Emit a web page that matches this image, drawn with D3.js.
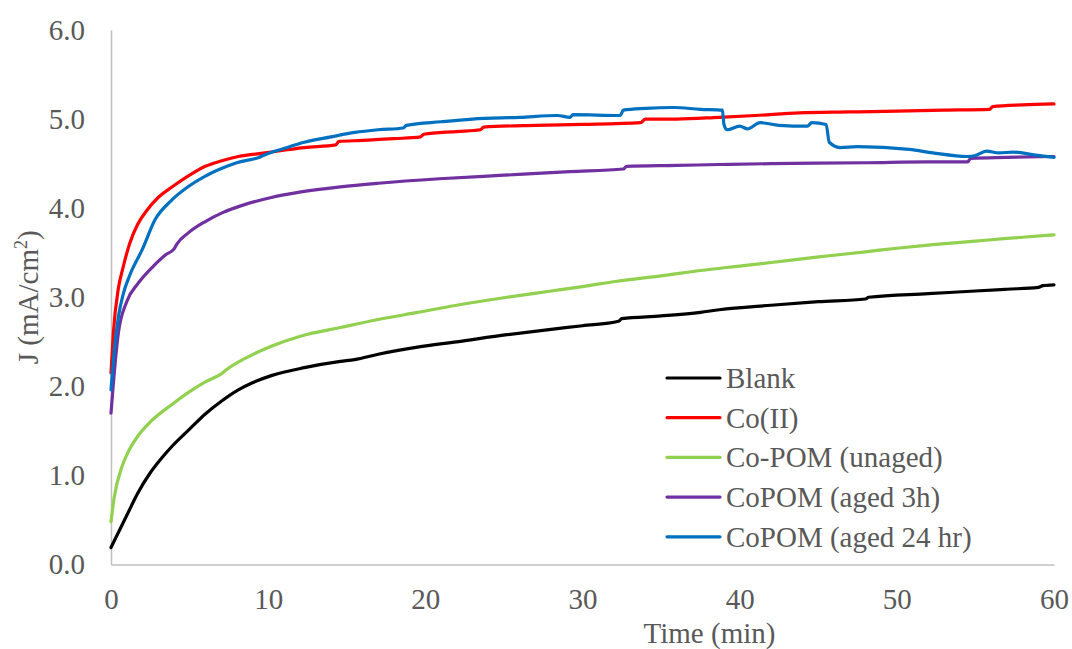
<!DOCTYPE html>
<html>
<head>
<meta charset="utf-8">
<script src="https://cdn.jsdelivr.net/npm/d3@7"></script>
<style>
  html, body { margin: 0; padding: 0; background: #fff; }
  svg { display: block; }
  text { font-family: "Liberation Serif", "Times New Roman", serif; fill: #595959; }
</style>
</head>
<body>
<svg id="chart" width="1072" height="649"></svg>
<script>
// Current density J (mA/cm²) versus time (min), pairs of [t, J]
const blank = [[0,0.19],[0.5,0.37],[1,0.55],[1.7,0.80],[2.5,1.03],[3.2,1.19],[3.9,1.33],[5,1.52],[6,1.69],[7,1.83],[8.1,1.96],[9,2.04],[10.2,2.12],[12.3,2.21],[14.6,2.28],[15.5,2.30],[17,2.36],[19.5,2.44],[22,2.5],[25.2,2.58],[28,2.64],[30,2.68],[32.3,2.73],[32.5,2.76],[35,2.79],[37.5,2.83],[38.7,2.86],[42,2.91],[45,2.95],[48,2.98],[48.2,3.0],[52,3.04],[55,3.07],[57,3.09],[59,3.11],[59.3,3.13],[60,3.14]];
const coII = [[0,2.15],[0.15,2.6],[0.47,3.1],[0.76,3.33],[1.2,3.61],[1.7,3.82],[2.3,3.98],[3,4.12],[3.9,4.24],[5,4.37],[6,4.47],[7,4.53],[8.1,4.58],[9.8,4.62],[11,4.65],[12.3,4.68],[14.3,4.71],[14.5,4.75],[16,4.76],[18,4.78],[19.7,4.80],[19.9,4.83],[22,4.86],[23.5,4.88],[23.7,4.91],[27,4.93],[30,4.94],[33.7,4.96],[34,5.0],[36,5.0],[38.7,5.02],[41,5.04],[43.8,5.07],[47,5.08],[50,5.09],[53,5.10],[55.9,5.11],[56.1,5.14],[58,5.16],[60,5.17]];
const coPomUnaged = [[0,0.48],[0.2,0.75],[0.7,1.10],[1.2,1.30],[1.7,1.44],[2.5,1.60],[3.9,1.80],[5,1.94],[6,2.05],[7.1,2.15],[7.3,2.18],[8.5,2.31],[10.2,2.45],[12,2.56],[14.6,2.66],[17,2.75],[19.5,2.83],[22,2.91],[25.2,3.0],[28,3.07],[30,3.12],[32.2,3.18],[35,3.24],[37.5,3.30],[40,3.35],[42,3.39],[44.9,3.45],[48,3.51],[50,3.55],[52.3,3.59],[55,3.63],[57,3.66],[60,3.70]];
const coPomAged3h = [[0,1.70],[0.15,2.03],[0.47,2.6],[1,2.95],[1.74,3.16],[2.7,3.35],[3.5,3.48],[4.0,3.54],[4.2,3.60],[4.9,3.72],[6,3.85],[7.1,3.95],[8.5,4.04],[10.2,4.12],[12,4.18],[14.6,4.24],[17,4.28],[20.9,4.33],[25,4.37],[29.2,4.41],[32.6,4.44],[32.8,4.47],[36,4.48],[38.7,4.49],[42,4.50],[48.1,4.51],[52,4.52],[54.5,4.52],[54.7,4.56],[57,4.57],[60,4.58]];
const coPomAged24h = [[0,1.96],[0.15,2.3],[0.47,2.78],[0.8,3.05],[1.2,3.25],[2.0,3.54],[2.8,3.87],[3.8,4.08],[4.9,4.24],[6,4.36],[7.1,4.45],[8,4.51],[9.4,4.57],[9.8,4.60],[11,4.67],[12.3,4.74],[14,4.80],[15.5,4.85],[17,4.88],[18.6,4.90],[18.8,4.93],[21,4.97],[23,5.00],[26,5.02],[28.4,5.04],[29.2,5.02],[29.4,5.05],[32.4,5.04],[32.6,5.10],[34,5.12],[35.8,5.13],[37.5,5.11],[38.9,5.10],[39.0,4.94],[39.2,4.88],[40,4.92],[40.5,4.89],[41.3,4.96],[42.5,4.93],[44.3,4.92],[44.6,4.96],[45.5,4.94],[45.7,4.74],[46.4,4.68],[47.5,4.69],[50.8,4.66],[52.3,4.62],[54.5,4.58],[55.0,4.59],[55.7,4.64],[56.5,4.62],[57.4,4.63],[58.7,4.60],[60,4.57]];

const seriesNames = ["Blank", "Co(II)", "Co-POM (unaged)", "CoPOM (aged 3h)", "CoPOM (aged 24 hr)"];
const seriesColors = ["#000000", "#FF0000", "#92D050", "#7030A0", "#0070C0"];
const seriesData = [blank, coII, coPomUnaged, coPomAged3h, coPomAged24h];

const xTicks = [0, 10, 20, 30, 40, 50, 60];
const yTicks = [0, 1, 2, 3, 4, 5, 6];

const FONT = 29;
const svg = d3.select("#chart");
const x = d3.scaleLinear().domain([0, 60]).range([111, 1054]);
const y = d3.scaleLinear().domain([0, 6]).range([564.5, 30]);

// axes
const yAxis = d3.axisLeft(y).tickValues(yTicks).tickFormat(d3.format(".1f")).tickSize(0).tickPadding(26);
const gy = svg.append("g").attr("transform", `translate(${x(0)},0)`).call(yAxis);
gy.select(".domain").attr("stroke", "#BFBFBF").attr("stroke-width", 1.5);
gy.selectAll("text").attr("font-size", FONT).attr("fill", "#595959")
  .attr("font-family", "Liberation Serif, Times New Roman, serif");

const xAxis = d3.axisBottom(x).tickValues(xTicks).tickFormat(d3.format("d")).tickSize(0).tickPadding(24);
const gx = svg.append("g").attr("transform", `translate(0,${y(0)})`).call(xAxis);
gx.select(".domain").attr("stroke", "#BFBFBF").attr("stroke-width", 1.5);
gx.selectAll("text").attr("font-size", FONT).attr("fill", "#595959")
  .attr("font-family", "Liberation Serif, Times New Roman, serif");

// series lines
const line = d3.line().x(d => x(d[0])).y(d => y(d[1])).curve(d3.curveMonotoneX);
seriesData.forEach((data, i) => {
  svg.append("path")
    .datum(data)
    .attr("fill", "none")
    .attr("stroke", seriesColors[i])
    .attr("stroke-width", 3.2)
    .attr("stroke-linejoin", "round")
    .attr("stroke-linecap", "round")
    .attr("d", line);
});

// axis titles
svg.append("text")
  .attr("x", 709.5).attr("y", 643)
  .attr("text-anchor", "middle").attr("font-size", FONT)
  .text("Time (min)");

const yTitle = svg.append("text")
  .attr("transform", `translate(38,${(y(0) + y(6)) / 2}) rotate(-90)`)
  .attr("text-anchor", "middle").attr("font-size", FONT);
yTitle.append("tspan").text("J (mA/cm");
yTitle.append("tspan").attr("font-size", 18).attr("dy", -11).text("2");
yTitle.append("tspan").attr("dy", 11).text(")");

// legend
const legend = svg.append("g");
seriesNames.forEach((name, i) => {
  const ly = 378 + i * 39.7;
  legend.append("line")
    .attr("x1", 667).attr("x2", 720).attr("y1", ly).attr("y2", ly)
    .attr("stroke", seriesColors[i]).attr("stroke-width", 3.2)
    .attr("stroke-linecap", "round");
  legend.append("text")
    .attr("x", 726).attr("y", ly + 10)
    .attr("font-size", FONT)
    .text(name);
});
</script>
</body>
</html>
